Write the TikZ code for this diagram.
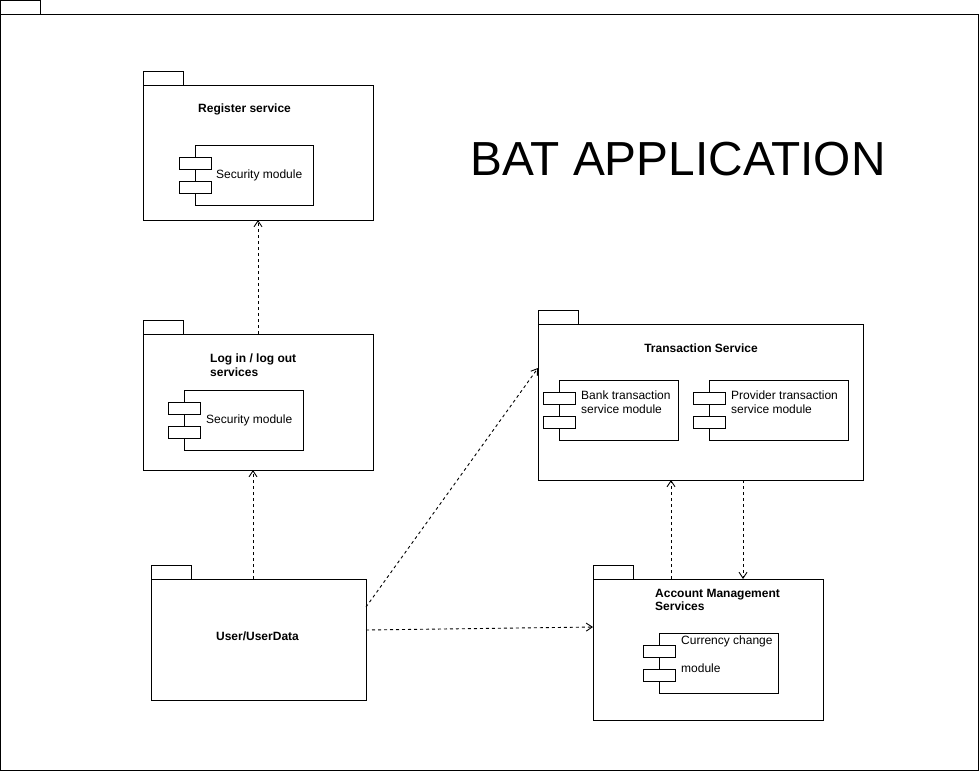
\documentclass[tikz,border=0pt]{standalone}
\usepackage{fontspec}
\setmainfont{Liberation Sans}
\usetikzlibrary{arrows.meta,calc}
\tikzset{
  box/.style={draw, line width=1pt, inner sep=0pt, outer sep=0pt, anchor=north west, rectangle, fill=white},
  dep/.style={line width=0.9pt, dash pattern=on 3pt off 3pt, -{Straight Barb[length=6pt,width=8pt,line width=0.9pt]}},
  lbl/.style={font=\fontsize{12}{14}\selectfont, inner sep=0pt, anchor=base west},
  blbl/.style={font=\fontsize{12}{14}\selectfont\bfseries, inner sep=0pt, anchor=base west},
}
% package: name, x, y(top of body), width, height
\newcommand\pkgbox[5]{%
  \draw[line width=1pt] (#2,#3) rectangle ++(40,-14);
  \node[box, minimum width=#4pt, minimum height=#5pt] (#1) at (#2,#3) {};
}
% component: name, x, y, width
\newcommand\compbox[4]{%
  \node[box, minimum width=#4pt, minimum height=60pt] (#1) at (#2,#3) {};
  \node[box, minimum width=32pt, minimum height=12pt] (#1a) at ($(#1.north west)+(-16,12)$) {};
  \node[box, minimum width=32pt, minimum height=12pt] (#1b) at ($(#1.north west)+(-16,36)$) {};
}
\begin{document}
\begin{tikzpicture}[x=1pt,y=-1pt]
\useasboundingbox (0,0) rectangle (979,772);
% outer frame
\draw[line width=1pt] (0.5,0.5) rectangle (40,14);
\node[box, minimum width=977.5pt, minimum height=756pt] (frame) at (0.5,14) {};
\node[font=\fontsize{47.8}{56}\selectfont, inner sep=0pt, anchor=base] (title) at (678,175) {BAT APPLICATION};

% Register service
\pkgbox{reg}{143}{85}{230}{135}
\node[blbl] (regl) at (198,112) {Register service};
\compbox{regc}{195}{145}{118}
\node[lbl] (regct) at (216,178) {Security module};

% Log in / log out
\pkgbox{log}{143}{334}{230}{136}
\node[blbl] (logl1) at (210,362) {Log in / log out};
\node[blbl] (logl2) at (210,376) {services};
\compbox{logc}{184}{390}{119}
\node[lbl] (logct) at (206,423) {Security module};

% Transaction Service
\pkgbox{tra}{538}{324}{325}{156}
\node[blbl, anchor=base] (tral) at (701,352) {Transaction Service};
\compbox{bank}{559}{380}{119}
\node[lbl] (bankt1) at (581,399) {Bank transaction};
\node[lbl] (bankt2) at (581,413) {service module};
\compbox{prov}{709}{380}{139}
\node[lbl] (provt1) at (731,399) {Provider transaction};
\node[lbl] (provt2) at (731,413) {service module};

% Account Management Services
\pkgbox{acc}{593}{579}{230}{141}
\node[blbl] (accl1) at (655,597) {Account Management};
\node[blbl] (accl2) at (655,610) {Services};
\compbox{cur}{659}{633}{119}
\node[lbl] (curt1) at (681,644) {Currency change};
\node[lbl] (curt2) at (681,672) {module};

% User/UserData
\pkgbox{usr}{151}{579}{215}{121}
\node[blbl, anchor=base] (usrl) at (257.5,640) {User/UserData};

% dependencies
\draw[dep] ($(log.north west)+(115,0)$) -- ($(reg.south west)+(115,0)$);
\draw[dep] ($(usr.north west)+(102,0)$) -- ($(log.south west)+(110,0)$);
\draw[dep] ($(usr.north east)+(0,28)$) -- ($(tra.north west)+(0,44)$);
\draw[dep] ($(usr.north east)+(0,51)$) -- ($(acc.north west)+(0,48)$);
\draw[dep] ($(acc.north west)+(78,0)$) -- ($(tra.south west)+(133,0)$);
\draw[dep] ($(tra.south west)+(205,0)$) -- ($(acc.north west)+(150,0)$);
\end{tikzpicture}
\end{document}
